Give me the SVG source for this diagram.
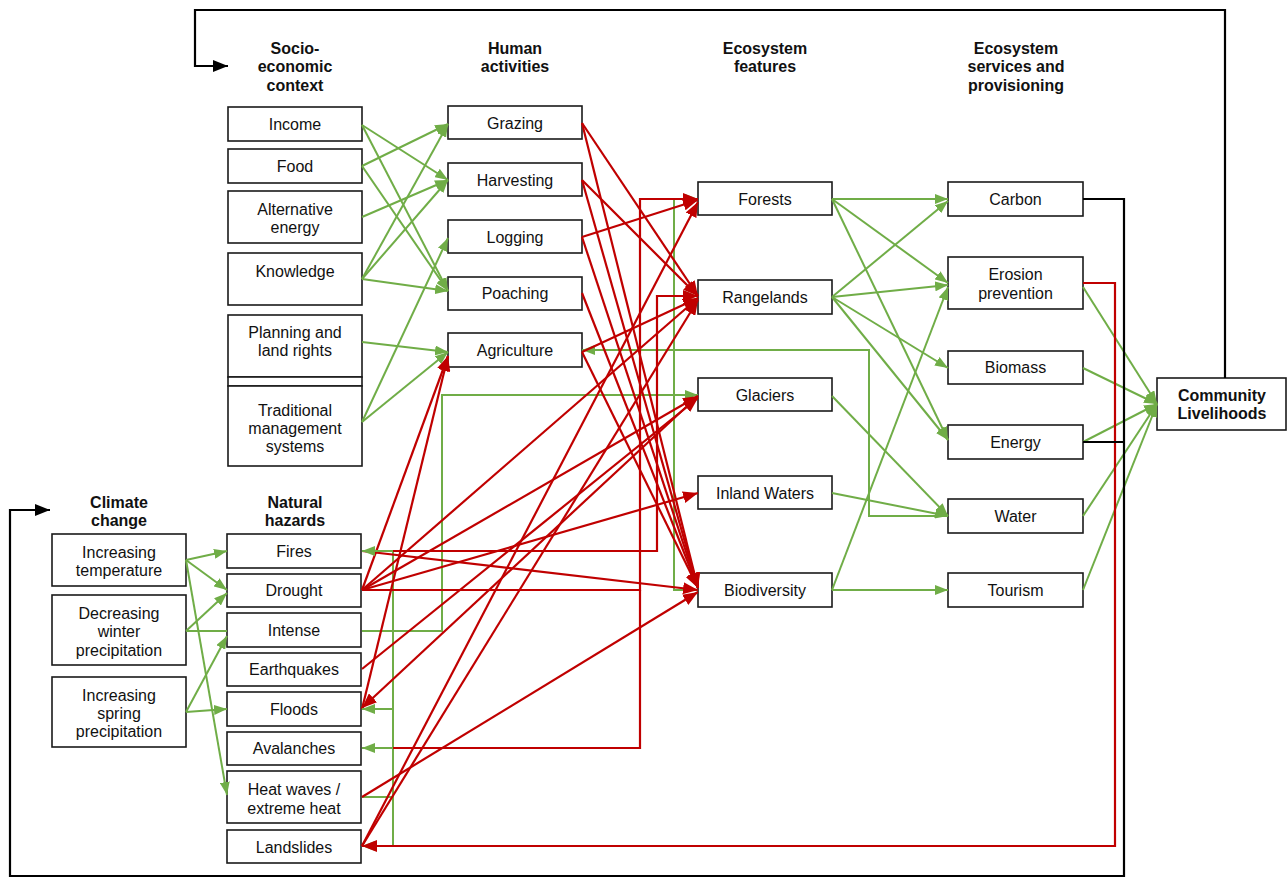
<svg xmlns="http://www.w3.org/2000/svg" width="1287" height="877" viewBox="0 0 1287 877">
<style>
.box{fill:#fff;stroke:#1a1a1a;stroke-width:1.6}
.t{font-family:"Liberation Sans",Arial,sans-serif;font-size:16px;text-anchor:middle;fill:#111}
.h{font-weight:bold}
.g{stroke:#70AD47;stroke-width:2;fill:none}
.r{stroke:#C00000;stroke-width:2.2;fill:none}
.k{stroke:#000;stroke-width:2.2;fill:none}
.ga{marker-end:url(#ag)}
.ra{marker-end:url(#ar)}
.ka{marker-end:url(#ak)}
</style>
<defs>
<marker id="ag" markerUnits="userSpaceOnUse" markerWidth="13" markerHeight="10" refX="13" refY="5" orient="auto"><path d="M0,0 L13,5 L0,10 z" fill="#70AD47"/></marker>
<marker id="ar" markerUnits="userSpaceOnUse" markerWidth="15" markerHeight="12" refX="15" refY="6" orient="auto"><path d="M0,0 L15,6 L0,12 z" fill="#C00000"/></marker>
<marker id="ak" markerUnits="userSpaceOnUse" markerWidth="15" markerHeight="12" refX="15" refY="6" orient="auto"><path d="M0,0 L15,6 L0,12 z" fill="#000"/></marker>
</defs>
<rect width="1287" height="877" fill="#fff"/>

<g id="headers">
<text class="t h" x="295" y="54">Socio-</text><text class="t h" x="295" y="72">economic</text><text class="t h" x="295" y="91">context</text>
<text class="t h" x="515" y="54">Human</text><text class="t h" x="515" y="72">activities</text>
<text class="t h" x="765" y="54">Ecosystem</text><text class="t h" x="765" y="72">features</text>
<text class="t h" x="1016" y="54">Ecosystem</text><text class="t h" x="1016" y="72">services and</text><text class="t h" x="1016" y="91">provisioning</text>
<text class="t h" x="119" y="508">Climate</text><text class="t h" x="119" y="526">change</text>
<text class="t h" x="295" y="508">Natural</text><text class="t h" x="295" y="526">hazards</text>
</g>

<g id="n-income"><rect class="box" x="228" y="107" width="134" height="34"/><text class="t" x="295" y="130">Income</text></g>
<g id="n-food"><rect class="box" x="228" y="149" width="134" height="34"/><text class="t" x="295" y="172">Food</text></g>
<g id="n-altenergy"><rect class="box" x="228" y="191" width="134" height="52"/><text class="t" x="295" y="215">Alternative</text><text class="t" x="295" y="233">energy</text></g>
<g id="n-knowledge"><rect class="box" x="228" y="253" width="134" height="52"/><text class="t" x="295" y="277">Knowledge</text></g>
<g id="n-planning"><rect class="box" x="228" y="315" width="134" height="62"/><text class="t" x="295" y="338">Planning and</text><text class="t" x="295" y="356">land rights</text></g>
<g id="n-strip"><rect class="box" x="228" y="377" width="134" height="9"/></g>
<g id="n-traditional"><rect class="box" x="228" y="386" width="134" height="80"/><text class="t" x="295" y="416">Traditional</text><text class="t" x="295" y="434">management</text><text class="t" x="295" y="452">systems</text></g>

<g id="n-grazing"><rect class="box" x="448" y="106" width="134" height="33"/><text class="t" x="515" y="129">Grazing</text></g>
<g id="n-harvesting"><rect class="box" x="448" y="163" width="134" height="33"/><text class="t" x="515" y="186">Harvesting</text></g>
<g id="n-logging"><rect class="box" x="448" y="220" width="134" height="33"/><text class="t" x="515" y="243">Logging</text></g>
<g id="n-poaching"><rect class="box" x="448" y="277" width="134" height="33"/><text class="t" x="515" y="299">Poaching</text></g>
<g id="n-agriculture"><rect class="box" x="448" y="333" width="134" height="34"/><text class="t" x="515" y="356">Agriculture</text></g>

<g id="n-forests"><rect class="box" x="698" y="182" width="134" height="33"/><text class="t" x="765" y="205">Forests</text></g>
<g id="n-rangelands"><rect class="box" x="698" y="280" width="134" height="34"/><text class="t" x="765" y="303">Rangelands</text></g>
<g id="n-glaciers"><rect class="box" x="698" y="378" width="134" height="33"/><text class="t" x="765" y="401">Glaciers</text></g>
<g id="n-inland"><rect class="box" x="698" y="476" width="134" height="33"/><text class="t" x="765" y="499">Inland Waters</text></g>
<g id="n-biodiversity"><rect class="box" x="698" y="573" width="134" height="34"/><text class="t" x="765" y="596">Biodiversity</text></g>

<g id="n-carbon"><rect class="box" x="948" y="182" width="135" height="34"/><text class="t" x="1015.5" y="205">Carbon</text></g>
<g id="n-erosion"><rect class="box" x="948" y="257" width="135" height="52"/><text class="t" x="1015.5" y="280">Erosion</text><text class="t" x="1015.5" y="299">prevention</text></g>
<g id="n-biomass"><rect class="box" x="948" y="351" width="135" height="33"/><text class="t" x="1015.5" y="373">Biomass</text></g>
<g id="n-energy"><rect class="box" x="948" y="425" width="135" height="34"/><text class="t" x="1015.5" y="448">Energy</text></g>
<g id="n-water"><rect class="box" x="948" y="499" width="135" height="34"/><text class="t" x="1015.5" y="522">Water</text></g>
<g id="n-tourism"><rect class="box" x="948" y="573" width="135" height="34"/><text class="t" x="1015.5" y="596">Tourism</text></g>

<g id="n-community"><rect class="box" x="1157" y="378" width="129" height="52"/><text class="t h" x="1222" y="401">Community</text><text class="t h" x="1222" y="419">Livelihoods</text></g>

<g id="n-temperature"><rect class="box" x="52" y="534" width="134" height="52"/><text class="t" x="119" y="558">Increasing</text><text class="t" x="119" y="576">temperature</text></g>
<g id="n-winter"><rect class="box" x="52" y="595" width="134" height="70"/><text class="t" x="119" y="619">Decreasing</text><text class="t" x="119" y="637">winter</text><text class="t" x="119" y="656">precipitation</text></g>
<g id="n-spring"><rect class="box" x="52" y="677" width="134" height="70"/><text class="t" x="119" y="701">Increasing</text><text class="t" x="119" y="719">spring</text><text class="t" x="119" y="737">precipitation</text></g>

<g id="n-fires"><rect class="box" x="227" y="534" width="134" height="34"/><text class="t" x="294" y="557">Fires</text></g>
<g id="n-drought"><rect class="box" x="227" y="574" width="134" height="33"/><text class="t" x="294" y="596">Drought</text></g>
<g id="n-intense"><rect class="box" x="227" y="613" width="134" height="34"/><text class="t" x="294" y="636">Intense</text></g>
<g id="n-earthquakes"><rect class="box" x="227" y="653" width="134" height="33"/><text class="t" x="294" y="675">Earthquakes</text></g>
<g id="n-floods"><rect class="box" x="227" y="692" width="134" height="34"/><text class="t" x="294" y="715">Floods</text></g>
<g id="n-avalanches"><rect class="box" x="227" y="732" width="134" height="33"/><text class="t" x="294" y="754">Avalanches</text></g>
<g id="n-heatwaves"><rect class="box" x="227" y="771" width="134" height="52"/><text class="t" x="294" y="795">Heat waves /</text><text class="t" x="294" y="814">extreme heat</text></g>
<g id="n-landslides"><rect class="box" x="227" y="830" width="134" height="33"/><text class="t" x="294" y="853">Landslides</text></g>

<g id="connectors">
<g id="green-main">
<path class="g ga" d="M362,125 L448,180"/>
<path class="g ga" d="M362,125 L448,291"/>
<path class="g ga" d="M362,166 L448,124"/>
<path class="g ga" d="M362,166 L448,291"/>
<path class="g ga" d="M362,217 L448,180"/>
<path class="g ga" d="M362,279 L448,124"/>
<path class="g ga" d="M362,279 L448,180"/>
<path class="g ga" d="M362,279 L448,291"/>
<path class="g ga" d="M362,342 L448,352"/>
<path class="g ga" d="M362,422 L448,238"/>
<path class="g ga" d="M362,422 L448,352"/>
<path class="g ga" d="M186,560 L227,551"/>
<path class="g ga" d="M186,560 L227,590"/>
<path class="g ga" d="M186,560 L227,795"/>
<path class="g ga" d="M186,631 L227,593"/>
<path class="g" d="M186,631 L227,631"/>
<path class="g ga" d="M186,712 L227,636"/>
<path class="g ga" d="M186,712 L227,709"/>
<path class="g ga" d="M362,631 L442,631 L442,395 L698,395"/>
<path class="g ga" d="M698,590 L674,590 L674,199 L698,199"/>
<path class="g ga" d="M674,296 L698,296"/>
<path class="g ga" d="M948,516 L869,516 L869,350 L582,350"/>
<path class="g ga" d="M832,199 L948,199"/>
<path class="g ga" d="M832,199 L948,283"/>
<path class="g ga" d="M832,199 L948,440"/>
<path class="g ga" d="M832,297 L948,201"/>
<path class="g ga" d="M832,297 L948,285"/>
<path class="g ga" d="M832,297 L948,368"/>
<path class="g ga" d="M832,297 L948,440"/>
<path class="g ga" d="M832,396 L948,516"/>
<path class="g ga" d="M832,493 L948,516"/>
<path class="g ga" d="M832,590 L948,590"/>
<path class="g ga" d="M832,590 L948,287"/>
<path class="g ga" d="M1083,287 L1157,404"/>
<path class="g ga" d="M1083,368 L1157,404"/>
<path class="g ga" d="M1083,442 L1157,404"/>
<path class="g ga" d="M1083,516 L1157,404"/>
<path class="g ga" d="M1083,590 L1157,404"/>
<path class="g" d="M362,797 L393,797 M393,551 L393,846"/>
<path class="g ga" d="M393,846 L362,846"/>
</g>
<g id="red">
<path class="r ra" d="M582,123 L698,296"/>
<path class="r ra" d="M582,123 L698,588"/>
<path class="r ra" d="M582,180 L698,296"/>
<path class="r ra" d="M582,180 L698,588"/>
<path class="r ra" d="M582,237 L698,200"/>
<path class="r ra" d="M582,237 L698,588"/>
<path class="r ra" d="M582,293 L698,588"/>
<path class="r ra" d="M582,352 L698,298"/>
<path class="r ra" d="M582,352 L698,588"/>
<path class="r ra" d="M362,551 L657,551 L657,296 L698,296"/>
<path class="r ra" d="M362,551 L698,590"/>
<path class="r ra" d="M362,590 L640,590 L640,199 L698,199"/>
<path class="r" d="M362,748 L640,748 L640,590"/>
<path class="r ra" d="M362,590 L448,356"/>
<path class="r ra" d="M362,590 L698,298"/>
<path class="r ra" d="M362,590 L698,396"/>
<path class="r ra" d="M362,590 L698,493"/>
<path class="r ra" d="M362,669 L698,398"/>
<path class="r ra" d="M698,396 L362,708"/>
<path class="r ra" d="M362,709 L448,356"/>
<path class="r ra" d="M362,846 L698,202"/>
<path class="r ra" d="M362,846 L698,300"/>
<path class="r ra" d="M362,797 L698,592"/>
<path class="r ra" d="M1083,283 L1115,283 L1115,846 L362,846"/>
</g>
<g id="green-hazard">
<path class="g ga" d="M393,551 L362,551"/>
<path class="g ga" d="M393,709 L362,709"/>
<path class="g ga" d="M393,748 L362,748"/>
</g>
<g id="black">
<path class="k ka" d="M1225,378 L1225,10 L195,10 L195,66 L228,66"/>
<path class="k ka" d="M1083,199 L1124,199 L1124,876 L10,876 L10,510 L50,510"/>
<path class="k" d="M1083,442 L1124,442"/>
</g>
</g>
</svg>
